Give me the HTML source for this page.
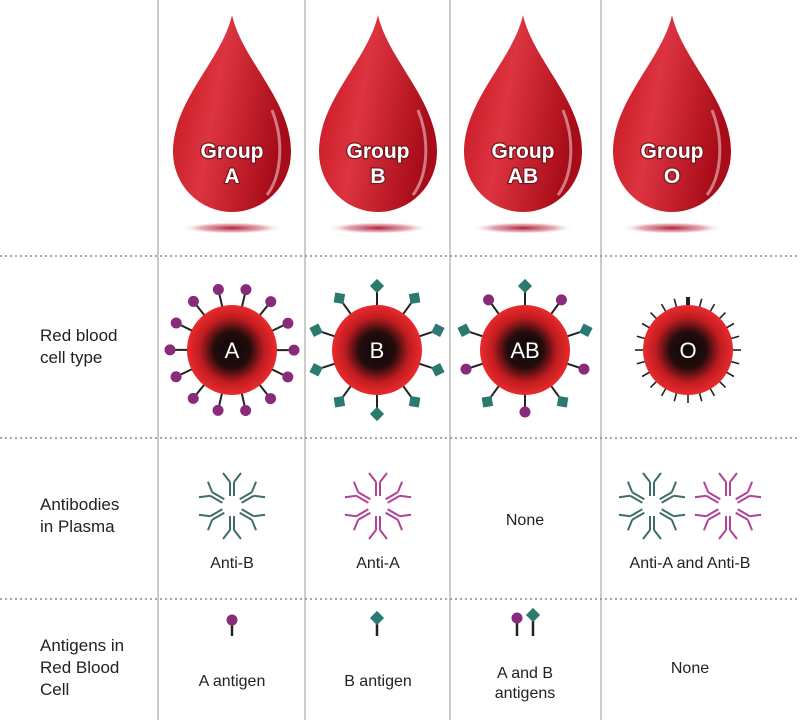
<!DOCTYPE html>
<html><head><meta charset="utf-8"><style>
body{margin:0;background:#fff;}
svg{display:block;font-family:"Liberation Sans",Arial,sans-serif;}
</style></head><body>
<svg id="s" width="800" height="720" viewBox="0 0 800 720" xmlns="http://www.w3.org/2000/svg">
<defs>
<linearGradient id="drop" x1="0" y1="0" x2="1" y2="0.3">
<stop offset="0" stop-color="#c4141f"/><stop offset="0.45" stop-color="#dc3440"/><stop offset="1" stop-color="#a80c18"/>
</linearGradient>
<radialGradient id="sh"><stop offset="0" stop-color="#b01a30"/><stop offset="0.6" stop-color="#d07080" stop-opacity="0.6"/><stop offset="1" stop-color="#fff" stop-opacity="0"/></radialGradient>
<radialGradient id="cell"><stop offset="0" stop-color="#100808"/><stop offset="0.4" stop-color="#220c0c"/><stop offset="0.72" stop-color="#c01c20"/><stop offset="1" stop-color="#ea2a2c"/></radialGradient>
</defs>
<g stroke="#bbb" stroke-width="1.5">
<line x1="158" y1="0" x2="158" y2="720"/><line x1="305" y1="0" x2="305" y2="720"/>
<line x1="450" y1="0" x2="450" y2="720"/><line x1="601" y1="0" x2="601" y2="720"/>
</g>
<g stroke="#888" stroke-width="1.5" stroke-dasharray="2,3">
<line x1="0" y1="256" x2="800" y2="256"/><line x1="0" y1="438" x2="800" y2="438"/><line x1="0" y1="599" x2="800" y2="599"/>
</g>
<g fill="#222" font-size="17">
<text x="40" y="341">Red blood</text><text x="40" y="363">cell type</text>
<text x="40" y="510">Antibodies</text><text x="40" y="532">in Plasma</text>
<text x="40" y="651">Antigens in</text><text x="40" y="673">Red Blood</text><text x="40" y="695">Cell</text>
</g>
<g fill="#222" font-size="16" text-anchor="middle">
<text x="232" y="568">Anti-B</text><text x="378" y="568">Anti-A</text>
<text x="525" y="525">None</text><text x="690" y="568">Anti-A and Anti-B</text>
<text x="232" y="686">A antigen</text><text x="378" y="686">B antigen</text>
<text x="525" y="678">A and B</text><text x="525" y="698">antigens</text>
<text x="690" y="673">None</text>
</g>
<g id="dyn"></g>
</svg>
<script>
var g=document.getElementById('dyn'),h='';
var drops=[[232,'A'],[378,'B'],[523,'AB'],[672,'O']];
drops.forEach(function(d){var c=d[0];
h+='<ellipse cx="'+c+'" cy="228" rx="52" ry="6" fill="url(#sh)"/>';
h+='<path d="M'+c+',15 C'+(c+10)+',60 '+(c+59)+',100 '+(c+59)+',152 A59 60 0 0 1 '+(c-59)+',152 C'+(c-59)+',100 '+(c-10)+',60 '+c+',15Z" fill="url(#drop)"/>';
h+='<path d="M'+(c+40)+',110 C'+(c+52)+',140 '+(c+50)+',175 '+(c+35)+',195" stroke="#fff" stroke-opacity="0.45" stroke-width="3" fill="none"/>';
h+='<g font-weight="bold" font-size="21" fill="#fff" stroke="#7a1520" stroke-width="2.5" paint-order="stroke" text-anchor="middle" style="font-weight:bold"><text x="'+c+'" y="158">Group</text><text x="'+c+'" y="183">'+d[1]+'</text></g>';
});
function ball(x,y){return '<circle cx="'+x+'" cy="'+y+'" r="5.5" fill="#8a2a7c"/>';}
function dia(x,y,a){return '<rect x="'+(x-5)+'" y="'+(y-5)+'" width="10" height="10" fill="#2a7a70" transform="rotate('+a+' '+x+' '+y+')"/>';}
function cell(cx,cy,items,lab){
 items.forEach(function(it){var a=it[0]*Math.PI/180,s=Math.sin(a),c=-Math.cos(a);
  var x1=cx+44*s,y1=cy+44*c,x2=cx+(it[1]=='o'?57:58)*s,y2=cy+(it[1]=='o'?57:58)*c;
  h+='<line x1="'+x1+'" y1="'+y1+'" x2="'+x2+'" y2="'+y2+'" stroke="#222" stroke-width="2"/>';
  if(it[1]=='o')h+=ball(cx+62*s,cy+62*c);else h+=dia(cx+64*s,cy+64*c,it[0]+45);
 });
 h+='<circle cx="'+cx+'" cy="'+cy+'" r="45" fill="url(#cell)"/>';
 h+='<text x="'+cx+'" y="'+(cy+8)+'" font-size="22" fill="#fff" text-anchor="middle">'+lab+'</text>';
}
var A=[],B=[],AB=[],O=[];
for(var i=0;i<14;i++)A.push([i*360/14+13,'o']);
for(var i=0;i<10;i++)B.push([i*36,'d']);
for(var i=0;i<10;i++)AB.push([i*36,i%2?'o':'d']);
cell(232,350,A,'A');cell(377,350,B,'B');cell(525,350,AB,'AB');
for(var i=0;i<24;i++){var a=i*15*Math.PI/180;h+='<line x1="'+(688+44*Math.sin(a))+'" y1="'+(350-44*Math.cos(a))+'" x2="'+(688+53*Math.sin(a))+'" y2="'+(350-53*Math.cos(a))+'" stroke="#222" stroke-width="'+(i==0?4:1.6)+'"/>';}
h+='<circle cx="688" cy="350" r="45" fill="url(#cell)"/><text x="688" y="358" font-size="22" fill="#fff" text-anchor="middle">O</text>';
function ab(cx,cy,col){var s='';for(var i=0;i<6;i++){var a=i*60;
 s+='<g transform="rotate('+a+' '+cx+' '+cy+')" stroke="'+col+'" stroke-width="2" fill="none"><line x1="'+(cx-2)+'" y1="'+(cy-10)+'" x2="'+(cx-2)+'" y2="'+(cy-24)+'"/><line x1="'+(cx+2)+'" y1="'+(cy-10)+'" x2="'+(cx+2)+'" y2="'+(cy-24)+'"/><path d="M'+(cx-2)+','+(cy-24)+' L'+(cx-9)+','+(cy-33)+' M'+(cx+2)+','+(cy-24)+' L'+(cx+9)+','+(cy-33)+'"/></g>';}return s;}
h+=ab(232,506,'#3e6e6a');h+=ab(378,506,'#b0429a');h+=ab(652,506,'#3e6e6a');h+=ab(728,506,'#b0429a');
h+='<line x1="232" y1="622" x2="232" y2="636" stroke="#222" stroke-width="2.5"/>'+ball(232,620);
h+='<line x1="377" y1="622" x2="377" y2="636" stroke="#222" stroke-width="2.5"/>'+dia(377,618,45);
h+='<line x1="517" y1="622" x2="517" y2="636" stroke="#222" stroke-width="2.5"/>'+ball(517,618);
h+='<line x1="533" y1="620" x2="533" y2="636" stroke="#222" stroke-width="2.5"/>'+dia(533,615,45);
g.innerHTML=h;
</script>
</body></html>
